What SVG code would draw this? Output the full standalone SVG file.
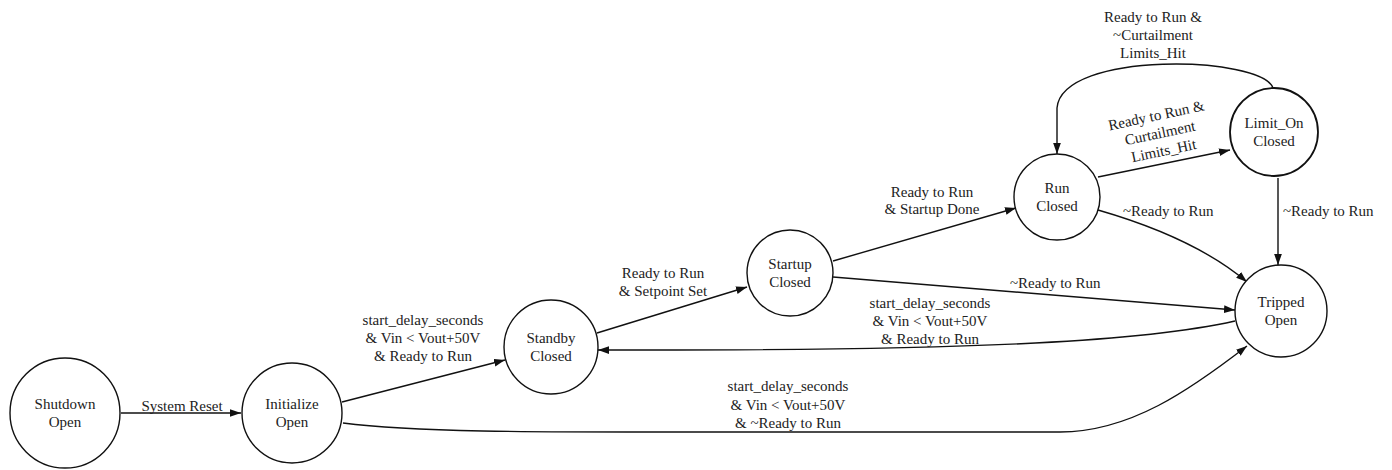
<svg xmlns="http://www.w3.org/2000/svg" width="1392" height="470" viewBox="0 0 1392 470">
<style>
text{font-family:"Liberation Serif","Times New Roman",serif;font-size:15px;fill:#222}
.c{text-anchor:middle}
.node circle{fill:#fff;stroke:#111;stroke-width:1.4}
.edges path{fill:none;stroke:#111;stroke-width:1.4}
</style>
<defs>
<marker id="ah" viewBox="0 0 10 7" refX="10" refY="3.5" markerWidth="11" markerHeight="8" markerUnits="userSpaceOnUse" orient="auto">
<path d="M0,0 L10,3.5 L0,7 z" fill="#111"/>
</marker>
</defs>
<rect width="1392" height="470" fill="#fff"/>
<g id="edges" class="edges">
<path d="M121,413 L241,413" marker-end="url(#ah)"/>
<path d="M342,402 L505,360" marker-end="url(#ah)"/>
<path d="M597,333 L747,287" marker-end="url(#ah)"/>
<path d="M833,261 L1016,208" marker-end="url(#ah)"/>
<path d="M1098,177 L1230,150" marker-end="url(#ah)"/>
<path d="M1273,88 C1262,56 1062,50 1057,108 L1057,154" marker-end="url(#ah)"/>
<path d="M1278,178 L1278,265" marker-end="url(#ah)"/>
<path d="M1098,210 Q1195,238 1247,282" marker-end="url(#ah)"/>
<path d="M833,277 Q1050,295 1235,310" marker-end="url(#ah)"/>
<path d="M1235,321 C1150,340 1000,351 598,350" marker-end="url(#ah)"/>
<path d="M343,423 C420,433 560,432 700,432 L1060,432 C1130,432 1190,390 1247,346" marker-end="url(#ah)"/>
</g>
<g id="edge-labels">
<text class="c" x="182" y="411">System Reset</text>
<text class="c" x="423" y="325">start_delay_seconds</text>
<text class="c" x="423" y="343">&amp; Vin &lt; Vout+50V</text>
<text class="c" x="423" y="361">&amp; Ready to Run</text>
<text class="c" x="663" y="278">Ready to Run</text>
<text class="c" x="663" y="296">&amp; Setpoint Set</text>
<text class="c" x="932" y="197">Ready to Run</text>
<text class="c" x="932" y="214">&amp; Startup Done</text>
<text class="c" x="1153" y="22">Ready to Run &amp;</text>
<text class="c" x="1153" y="40">~Curtailment</text>
<text class="c" x="1153" y="58">Limits_Hit</text>
<g transform="translate(1160,133) rotate(-12)">
<text class="c" x="0" y="-13">Ready to Run &amp;</text>
<text class="c" x="0" y="5">Curtailment</text>
<text class="c" x="0" y="23">Limits_Hit</text>
</g>
<text x="1283" y="216">~Ready to Run</text>
<text x="1123" y="216">~Ready to Run</text>
<text x="1010" y="288">~Ready to Run</text>
<text class="c" x="930" y="308">start_delay_seconds</text>
<text class="c" x="930" y="326">&amp; Vin &lt; Vout+50V</text>
<text class="c" x="930" y="344">&amp; Ready to Run</text>
<text class="c" x="788" y="391">start_delay_seconds</text>
<text class="c" x="788" y="410">&amp; Vin &lt; Vout+50V</text>
<text class="c" x="788" y="428">&amp; ~Ready to Run</text>
</g>
<g id="shutdown" class="node"><circle cx="65" cy="413" r="55"/><text class="c" x="65" y="409">Shutdown</text><text class="c" x="65" y="427">Open</text></g>
<g id="initialize" class="node"><circle cx="292" cy="413" r="50"/><text class="c" x="292" y="409">Initialize</text><text class="c" x="292" y="427">Open</text></g>
<g id="standby" class="node"><circle cx="551" cy="347" r="47"/><text class="c" x="551" y="343">Standby</text><text class="c" x="551" y="361">Closed</text></g>
<g id="startup" class="node"><circle cx="790" cy="273" r="43"/><text class="c" x="790" y="269">Startup</text><text class="c" x="790" y="287">Closed</text></g>
<g id="run" class="node"><circle cx="1057" cy="197" r="43"/><text class="c" x="1057" y="193">Run</text><text class="c" x="1057" y="211">Closed</text></g>
<g id="limit_on" class="node"><circle cx="1274" cy="132" r="44" style="stroke-width:1.8"/><text class="c" x="1274" y="128">Limit_On</text><text class="c" x="1274" y="146">Closed</text></g>
<g id="tripped" class="node"><circle cx="1281" cy="311" r="46"/><text class="c" x="1281" y="307">Tripped</text><text class="c" x="1281" y="325">Open</text></g>
</svg>
